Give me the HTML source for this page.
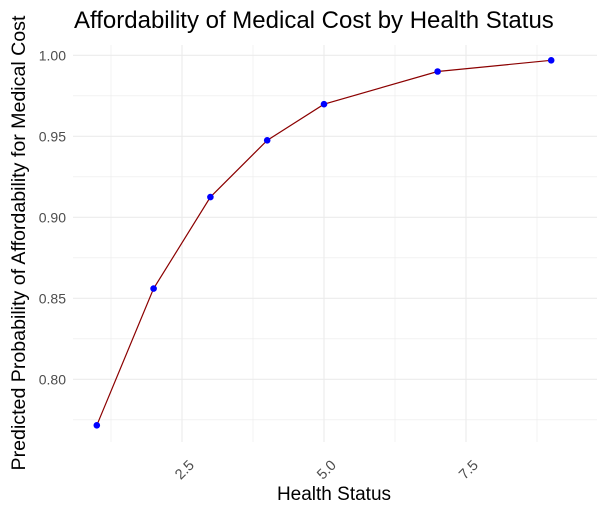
<!DOCTYPE html>
<html><head><meta charset="utf-8"><style>
body{margin:0;background:#fff;font-family:"Liberation Sans",sans-serif}
</style></head><body>
<svg id="chart" width="606" height="514">
<text x="74" y="28" font-size="24" fill="#000">Affordability of Medical Cost by Health Status</text>
<g id="grid"></g><g id="axes"></g><g id="marks"></g>
<text x="334" y="500" font-size="19" text-anchor="middle" fill="#000">Health Status</text>
<text transform="translate(25,243) rotate(-90)" font-size="19.6" text-anchor="middle" fill="#000">Predicted Probability of Affordability for Medical Cost</text>
</svg>
<script>
const healthStatus=[1,2,3,4,5,7,9];
const probability=[0.7716,0.856,0.9125,0.9475,0.9698,0.990,0.9969];
const xTicks=[2.5,5.0,7.5];
const xTickLabels=["2.5","5.0","7.5"];
const yTicks=[0.80,0.85,0.90,0.95,1.00];
const yTickLabels=["0.80","0.85","0.90","0.95","1.00"];
const X0=73,X1=597,Y0=45,Y1=442;
const xs=v=>324+(v-5)*56.8;
const ys=v=>55.3+(1-v)*1620;
const NS="http://www.w3.org/2000/svg";
function mk(t,a,p){const e=document.createElementNS(NS,t);for(const k in a)e.setAttribute(k,a[k]);p.appendChild(e);return e;}
const grid=document.getElementById('grid'),axes=document.getElementById('axes'),marks=document.getElementById('marks');
for(let v=1.25;v<=9.5;v+=1.25){const major=xTicks.includes(v);
 const l=mk('line',{x1:xs(v),x2:xs(v),y1:Y0,y2:Y1,stroke:'#ebebeb','stroke-width':major?1.1:0.6},grid);
 
 }
for(let v=0.775;v<=1.001;v+=0.025){const major=yTicks.some(t=>Math.abs(t-v)<1e-6);
 const l=mk('line',{x1:X0,x2:X1,y1:ys(v),y2:ys(v),stroke:'#ebebeb','stroke-width':major?1.1:0.6},grid);
 
 }
xTicks.forEach((v,i)=>{const t=mk('text',{x:0,y:0,'font-size':14.5,fill:'#4d4d4d','text-anchor':'end',transform:`translate(${xs(v)+13},${466}) rotate(-45)`},axes);
 t.textContent=xTickLabels[i];
 
 });
yTicks.forEach((v,i)=>{const t=mk('text',{x:66,y:ys(v)+5,'font-size':14,fill:'#4d4d4d','text-anchor':'end'},axes);
 t.textContent=yTickLabels[i];
 
 });
const pl=mk('polyline',{points:healthStatus.map((v,i)=>xs(v)+','+ys(probability[i])).join(' '),fill:'none',stroke:'#8b0000','stroke-width':1.2},marks);


healthStatus.forEach((v,i)=>{const c=mk('circle',{cx:xs(v),cy:ys(probability[i]),r:3.3,fill:'#0000ff'},marks);
 
 });
</script>
</body></html>
